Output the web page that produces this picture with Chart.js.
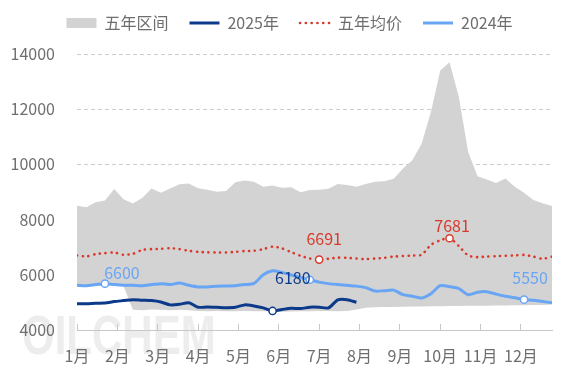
<!DOCTYPE html>
<html><head><meta charset="utf-8">
<script src="https://cdn.jsdelivr.net/npm/chart.js@4.4.1/dist/chart.umd.min.js"></script>
<style>
html,body{margin:0;padding:0;background:#fff;}
#wrap{position:relative;width:567px;height:378px;overflow:hidden;background:#fff;}
#wm{position:absolute;left:22px;top:302px;font:bold 56px "Liberation Sans",Arial,sans-serif;color:#ededed;transform:scaleX(0.75);transform-origin:left top;white-space:nowrap;z-index:0;}
canvas{position:absolute;left:0;top:0;z-index:1;}
</style></head><body>
<div id="wrap"><div id="wm">OILCHEM</div><canvas id="c" width="567" height="378"></canvas></div>
<script>
const months = ['1月','2月','3月','4月','5月','6月','7月','8月','9月','10月','11月','12月'];
const weeksPerYear = 52;
const seriesNames = ['五年区间','2025年','五年均价','2024年'];

const rangeMax = [8500,8450,8630,8690,9110,8740,8580,8780,9130,8970,
  9130,9280,9310,9140,9080,9010,9040,9350,9420,9370,
  9190,9240,9150,9170,8990,9070,9080,9120,9290,9250,
  9190,9290,9370,9390,9480,9850,10150,10750,11900,13400,
  13700,12440,10450,9570,9450,9330,9490,9190,8970,8710,
  8590,8490];
const rangeMin = [5590,5575,5615,5650,5615,5590,
  4730,4720,4740,4730,4720,4730,4720,
  4690,4680,4690,4680,4680,4690,4680,4680,4670,4660,4670,4680,4680,4690,4690,4680,4690,
  4740,4810,
  4820,4830,4830,4840,4850,4850,4860,4860,4870,4870,4880,4880,4880,4890,4890,4900,4900,4910,4910,4920];
const y2025 = [4950,4950,4970,4980,5030,5065,5100,5080,5065,5015,
  4910,4930,4990,4825,4835,4825,4810,4825,4910,4870,
  4800,4690,4740,4790,4775,4825,4825,4800,5090,5100,
  5005];
const avg5 = [6700,6665,6750,6785,6810,6725,6760,6900,6930,6940,
  6965,6930,6870,6830,6815,6810,6810,6830,6860,6870,
  6930,7020,6960,6820,6690,6590,6550,6580,6620,6615,
  6590,6570,6590,6615,6660,6680,6700,6725,7085,7250,
  7325,7040,6700,6640,6660,6675,6690,6700,6720,6660,
  6580,6660];
const y2024 = [5620,5605,5645,5680,5645,5620,5620,5605,5645,5680,
  5645,5700,5620,5560,5560,5585,5595,5605,5645,5690,
  6005,6150,6085,5995,5905,5820,5735,5680,5645,5620,
  5590,5535,5410,5425,5445,5280,5225,5160,5315,5605,
  5570,5500,5280,5370,5390,5300,5225,5170,5100,5075,
  5030,4990];

const markIdx2025 = [21];
const markIdxAvg = [26,40];
const markIdx2024 = [3,25,48];
const pointLabels = [
  {series:3, index:3, text:'6600'},
  {series:3, index:25, text:'6180'},
  {series:2, index:26, text:'6691'},
  {series:2, index:40, text:'7681'},
  {series:3, index:48, text:'5550'}
];

const FONT = '"Noto Sans CJK SC","Noto Sans",sans-serif';
const C25 = '#0c3a8a', CAVG = '#d8392b', C24 = '#69a5f5', CBAND = '#d3d3d3', TXT = '#6e6e6e';
const labelStyles = [
  {color:C24, dx:17, dy:-11},
  {color:C25, dx:-17, dy:-2},
  {color:CAVG, dx:5, dy:-21},
  {color:CAVG, dx:2.5, dy:-12.5},
  {color:C24, dx:6, dy:-22}
];

const toXY = arr => arr.map((v,i)=>({x:i, y:v}));
const radiusFor = idx => (c => idx.includes(c.dataIndex) ? 3.6 : 0);

const labelPlugin = {
  id:'pointLabels',
  afterDatasetsDraw(chart){
    const ctx = chart.ctx;
    ctx.save();
    ctx.font = '16px ' + FONT;
    ctx.textAlign = 'center';
    ctx.textBaseline = 'middle';
    pointLabels.forEach((lab,k)=>{
      const st = labelStyles[k];
      const el = chart.getDatasetMeta(lab.series).data[lab.index];
      ctx.fillStyle = st.color;
      ctx.fillText(lab.text, el.x + st.dx, el.y + st.dy);
    });
    ctx.restore();
  }
};
const legendTweak = {
  id:'legendTweak',
  beforeUpdate(chart){
    const lg = chart.legend;
    if (lg && !lg._patched){
      const f = lg.fit;
      lg.fit = function(){ f.call(this); this.height += 13; };
      lg._patched = true;
    }
  },
  afterLayout(chart){
    if (chart.legend) chart.legend.left += 17;
  }
};

new Chart(document.getElementById('c'), {
  type:'line',
  data:{ datasets:[
    {label:seriesNames[0], data:toXY(rangeMax), borderWidth:0, pointRadius:0, backgroundColor:CBAND, borderColor:CBAND, fill:4, tension:0},
    {label:seriesNames[1], data:toXY(y2025), borderColor:C25, borderWidth:3, fill:false, tension:0.25,
      pointRadius:radiusFor(markIdx2025), pointBackgroundColor:'#fff', pointBorderColor:C25, pointBorderWidth:1.5},
    {label:seriesNames[2], data:toXY(avg5), borderColor:CAVG, borderWidth:2.6, borderDash:[0.1,5.7], borderCapStyle:'round', fill:false, tension:0.25,
      pointRadius:radiusFor(markIdxAvg), pointBackgroundColor:'#fff', pointBorderColor:CAVG, pointBorderWidth:1.5},
    {label:seriesNames[3], data:toXY(y2024), borderColor:C24, borderWidth:3, fill:false, tension:0.25,
      pointRadius:radiusFor(markIdx2024), pointBackgroundColor:'#fff', pointBorderColor:C24, pointBorderWidth:1.5},
    {label:'', data:toXY(rangeMin), borderWidth:0, pointRadius:0, fill:false, tension:0, borderColor:CBAND}
  ]},
  options:{
    responsive:false, animation:false, devicePixelRatio:1,
    events:[],
    layout:{padding:{top:-6,left:10,right:15,bottom:13}},
    scales:{
      x:{type:'linear', min:0, max:weeksPerYear-1,
        afterBuildTicks: s => { s.ticks = months.map((m,i)=>({value:i*weeksPerYear/12})); },
        afterFit: s => { s.height = 35; },
        ticks:{callback:(v,i)=>months[i], color:TXT, font:{family:FONT,size:16}, padding:22, maxRotation:0, autoSkip:false},
        grid:{display:true, drawOnChartArea:false, drawTicks:true, tickLength:-6, color:'#c8c8c8'},
        border:{display:true, color:'#c8c8c8'}
      },
      y:{min:4000, max:14000,
        afterFit: s => { s.width = 67; },
        ticks:{stepSize:2000, padding:22, color:TXT, font:{family:FONT,size:16}, callback: v => String(v)},
        grid:{drawTicks:false, color: c => (c.tick && c.tick.value === 4000) ? 'rgba(0,0,0,0)' : '#cccccc'},
        border:{display:false, dash:[4,3]}
      }
    },
    plugins:{
      tooltip:{enabled:false},
      filler:{drawTime:'beforeDatasetsDraw'},
      legend:{position:'top', align:'center',
        labels:{usePointStyle:true, pointStyleWidth:30, boxHeight:10, padding:21, color:TXT, font:{family:FONT,size:16},
          generateLabels: chart => chart.data.datasets.map((ds,i)=>({
            text: ds.label, datasetIndex:i, hidden:false,
            pointStyle: i===0 ? 'rect' : 'line',
            fillStyle: i===0 ? CBAND : ds.borderColor,
            strokeStyle: ds.borderColor,
            lineWidth: i===0 ? 0 : ds.borderWidth,
            lineDash: ds.borderDash || [],
            lineCap: ds.borderCapStyle || 'butt',
            fontColor: TXT
          })).filter(it => it.text)
        }
      }
    }
  },
  plugins:[labelPlugin, legendTweak]
});
</script>
</body></html>
